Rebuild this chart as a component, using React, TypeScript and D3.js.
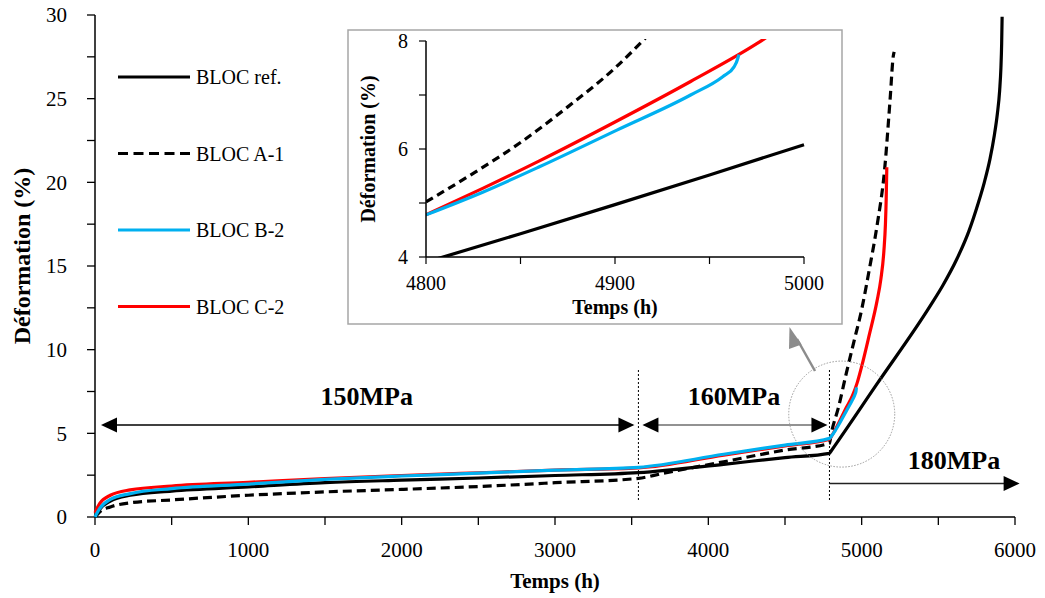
import React from 'react';
import * as d3 from 'd3';

type Pt = [number, number];

// ---------- DATA ----------
const seriesNames = ['BLOC ref.', 'BLOC A-1', 'BLOC B-2', 'BLOC C-2'];
const seriesColors = ['#000000', '#000000', '#00b0f0', '#ff0000'];

// main chart (Temps h, Déformation %)
const blocRef: Pt[] = [
  [0, 0], [30, 0.45], [100, 0.95], [230, 1.3], [500, 1.55], [1000, 1.8], [1500, 2.05],
  [2000, 2.2], [2500, 2.33], [3000, 2.48], [3544, 2.65], [4100, 3.15], [4500, 3.55],
  [4790, 3.8], [4800, 3.93], [5100, 7.95], [5446, 12.6], [5530, 13.85], [5620, 15.4],
  [5700, 17.1], [5760, 18.75], [5800, 20.0], [5837, 21.4], [5865, 22.8], [5885, 24.1],
  [5900, 25.5], [5908, 26.8], [5913, 28.3], [5916, 29.9],
];
const blocA1: Pt[] = [
  [0, 0], [30, 0.3], [100, 0.6], [230, 0.85], [500, 1.02], [1000, 1.3], [1500, 1.5],
  [2000, 1.65], [2500, 1.82], [3000, 2.05], [3544, 2.31], [3700, 2.6], [4100, 3.3],
  [4500, 4.0], [4790, 4.4], [4800, 4.9], [4850, 6.6], [4900, 8.6], [4950, 10.5],
  [5000, 12.4], [5050, 14.8], [5100, 17.4], [5150, 20.8], [5185, 24.9], [5207, 27.6],
  [5212, 27.8],
];
const blocB2: Pt[] = [
  [0, 0], [30, 0.5], [100, 1.05], [230, 1.4], [500, 1.7], [1000, 1.97], [1500, 2.25],
  [2000, 2.45], [2500, 2.62], [3000, 2.8], [3544, 2.97], [4100, 3.75], [4500, 4.3],
  [4790, 4.7], [4800, 4.8], [4830, 5.2], [4860, 5.67], [4901, 6.35], [4940, 7.0],
  [4957, 7.34], [4963, 7.52], [4966, 7.75],
];
const blocC2: Pt[] = [
  [0, 0.25], [30, 0.8], [100, 1.3], [230, 1.62], [500, 1.85], [1000, 2.07], [1500, 2.3],
  [2000, 2.48], [2500, 2.64], [3000, 2.8], [3544, 2.93], [4100, 3.7], [4500, 4.25],
  [4790, 4.65], [4800, 4.78], [4860, 5.8], [4900, 6.54], [4940, 7.25], [4970, 8.0],
  [5000, 9.0], [5050, 10.9], [5100, 12.9], [5125, 14.2], [5145, 15.9], [5155, 17.5],
  [5160, 19.0], [5164, 20.9],
];

// inset (zoom 4800-5000 h)
const zoomRef: Pt[] = [[4790, 3.8], [4850, 4.43], [4900, 4.97], [4950, 5.52], [5000, 6.08]];
const zoomA1: Pt[] = [
  [4800, 5.02], [4825, 5.55], [4850, 6.12], [4875, 6.78], [4900, 7.5], [4914, 7.98], [4920, 8.2],
];
const zoomB2: Pt[] = [
  [4800, 4.78], [4830, 5.2], [4860, 5.67], [4901, 6.35], [4940, 7.0], [4957, 7.34],
  [4963, 7.52], [4965, 7.68], [4965.5, 7.75],
];
const zoomC2: Pt[] = [
  [4800, 4.78], [4830, 5.27], [4860, 5.78], [4900, 6.5], [4940, 7.25], [4975, 7.95], [4990, 8.3],
];

const xTicksMain = [0, 1000, 2000, 3000, 4000, 5000, 6000];
const xMinorMain = d3.range(0, 6001, 500);
const yTicksMain = [0, 5, 10, 15, 20, 25, 30];
const yMinorMain = d3.range(0, 30.01, 2.5);
const xTicksInset = [4800, 4900, 5000];
const xMinorInset = [4800, 4850, 4900, 4950, 5000];
const yTicksInset = [4, 6, 8];
const yMinorInset = [4, 5, 6, 7, 8];

const stageBounds = [0, 3544, 4790, 6030];
const stageLabels = ['150MPa', '160MPa', '180MPa'];

const FONT = "'Liberation Serif', 'Times New Roman', serif";

function tri(tipX: number, tipY: number, dir: number, len: number, half: number) {
  const bx = tipX - dir * len;
  return `M${tipX},${tipY}L${bx},${tipY - half}L${bx},${tipY + half}Z`;
}

export default function App() {
  const x = d3.scaleLinear().domain([0, 6000]).range([95, 1015]);
  const y = d3.scaleLinear().domain([0, 30]).range([517, 15]);
  const xi = d3.scaleLinear().domain([4800, 5000]).range([426, 804]);
  const yi = d3.scaleLinear().domain([4, 8]).range([257, 41]);

  const lineMain = d3.line<Pt>().x(d => x(d[0])).y(d => y(d[1])).curve(d3.curveMonotoneX);
  const lineIn = d3.line<Pt>().x(d => xi(d[0])).y(d => yi(d[1])).curve(d3.curveMonotoneX);

  const mainSeries = [blocRef, blocA1, blocB2, blocC2];
  const zoomSeries = [zoomRef, zoomA1, zoomB2, zoomC2];
  const drawOrder = [0, 1, 3, 2];
  const dashMain = [null, '9,5', null, null];
  const dashIn = [null, '8,5', null, null];

  const arrowY = y(5.5);
  const arrow3Y = y(2);

  const circleCx = x(4870);
  const circleCy = y(6.15);

  return (
    <svg width={1045} height={598} style={{ position: 'absolute', left: 0, top: 0, background: '#fff' }}
      fontFamily={FONT}>
      <rect x={0} y={0} width={1045} height={598} fill="#fff" />

      {/* main axes */}
      <line x1={x(0)} x2={x(6000)} y1={y(0)} y2={y(0)} stroke="#000" strokeWidth={1.5} />
      <line x1={x(0)} x2={x(0)} y1={y(0)} y2={y(30)} stroke="#000" strokeWidth={1.5} />
      {xMinorMain.map(t => (
        <line key={'xm' + t} x1={x(t)} x2={x(t)} y1={y(0)} y2={y(0) + 8} stroke="#000" strokeWidth={1.3} />
      ))}
      {yMinorMain.map(v => (
        <line key={'ym' + v} x1={x(0) - 8} x2={x(0)} y1={y(v)} y2={y(v)} stroke="#000" strokeWidth={1.3} />
      ))}
      {xTicksMain.map(t => (
        <text key={'xt' + t} x={x(t)} y={557} textAnchor="middle" fontSize={21} fill="#000">{t}</text>
      ))}
      {yTicksMain.map(v => (
        <text key={'yt' + v} x={67} y={y(v)} dy="0.35em" textAnchor="end" fontSize={21} fill="#000">{v}</text>
      ))}
      <text x={x(3000)} y={588} textAnchor="middle" fontSize={21} fontWeight="bold">Temps (h)</text>
      <text transform={`translate(30,256) rotate(-90)`} textAnchor="middle" fontSize={24} fontWeight="bold">
        Déformation (%)
      </text>

      {/* stage separators */}
      {[stageBounds[1], stageBounds[2]].map(t => (
        <line key={'sep' + t} x1={x(t)} x2={x(t)} y1={370} y2={501} stroke="#000" strokeWidth={1}
          strokeDasharray="2,2" />
      ))}

      {/* stage arrows */}
      <line x1={x(stageBounds[0]) + 8} x2={x(stageBounds[1]) - 6} y1={arrowY} y2={arrowY} stroke="#000" strokeWidth={1.5} />
      <path d={tri(x(stageBounds[0]) + 6, arrowY, -1, 16, 7.5)} fill="#000" />
      <path d={tri(x(stageBounds[1]) - 4, arrowY, 1, 16, 7.5)} fill="#000" />
      <line x1={x(stageBounds[1]) + 6} x2={x(stageBounds[2]) - 6} y1={arrowY} y2={arrowY} stroke="#6e6e6e" strokeWidth={1.5} />
      <path d={tri(x(stageBounds[1]) + 4, arrowY, -1, 16, 7.5)} fill="#000" />
      <path d={tri(x(stageBounds[2]) - 2, arrowY, 1, 16, 7.5)} fill="#000" />
      <line x1={x(stageBounds[2])} x2={x(stageBounds[3]) - 6} y1={arrow3Y} y2={arrow3Y} stroke="#222" strokeWidth={1.5} />
      <path d={tri(x(stageBounds[3]), arrow3Y, 1, 16, 7.5)} fill="#000" />

      <text x={(x(stageBounds[0]) + x(stageBounds[1])) / 2} y={405} textAnchor="middle" fontSize={26} fontWeight="bold">{stageLabels[0]}</text>
      <text x={(x(stageBounds[1]) + x(stageBounds[2])) / 2} y={405} textAnchor="middle" fontSize={26} fontWeight="bold">{stageLabels[1]}</text>
      <text x={954} y={469} textAnchor="middle" fontSize={26} fontWeight="bold">{stageLabels[2]}</text>

      {/* main curves */}
      {drawOrder.map(i => (
        <path key={'s' + i} d={lineMain(mainSeries[i]) || ''} fill="none" stroke={seriesColors[i]}
          strokeWidth={3.2} strokeDasharray={dashMain[i] || undefined} strokeLinejoin="round" />
      ))}

      {/* zoom circle & pointer */}
      <circle cx={circleCx} cy={circleCy} r={53} fill="none" stroke="#9a9a9a" strokeWidth={1} strokeDasharray="1.5,1.5" />
      <line x1={815} y1={371} x2={797} y2={339} stroke="#8c8c8c" strokeWidth={2.5} />
      <path d="M789.5,327L801.6,344.5L789,349Z" fill="#8c8c8c" />

      {/* legend */}
      {seriesNames.map((n, i) => {
        const ly = 77 + i * 76.5;
        return (
          <g key={'lg' + i}>
            <line x1={118} x2={190} y1={ly} y2={ly} stroke={seriesColors[i]} strokeWidth={3.2}
              strokeDasharray={i === 1 ? '10,5.5' : undefined} />
            <text x={196} y={ly + 7} fontSize={20} fill="#000">{n}</text>
          </g>
        );
      })}

      {/* inset */}
      <rect x={348} y={30} width={494} height={294} fill="#fff" stroke="#a6a6a6" strokeWidth={1.5} />
      <defs>
        <clipPath id="insetClip">
          <rect x={xi(4800)} y={yi(8) - 2} width={xi(5000) - xi(4800) + 4} height={yi(4) - yi(8) + 2} />
        </clipPath>
      </defs>
      <g clipPath="url(#insetClip)">
        {drawOrder.map(i => (
          <path key={'z' + i} d={lineIn(zoomSeries[i]) || ''} fill="none" stroke={seriesColors[i]}
            strokeWidth={3.2} strokeDasharray={dashIn[i] || undefined} />
        ))}
      </g>
      <line x1={xi(4800)} x2={xi(5000)} y1={yi(4)} y2={yi(4)} stroke="#000" strokeWidth={1.5} />
      <line x1={xi(4800)} x2={xi(4800)} y1={yi(4)} y2={yi(8)} stroke="#000" strokeWidth={1.5} />
      {xMinorInset.map(t => (
        <line key={'xim' + t} x1={xi(t)} x2={xi(t)} y1={yi(4)} y2={yi(4) + 7} stroke="#000" strokeWidth={1.2} />
      ))}
      {yMinorInset.map(v => (
        <line key={'yim' + v} x1={xi(4800) - 7} x2={xi(4800)} y1={yi(v)} y2={yi(v)} stroke="#000" strokeWidth={1.2} />
      ))}
      {xTicksInset.map(t => (
        <text key={'xit' + t} x={xi(t)} y={290} textAnchor="middle" fontSize={20}>{t}</text>
      ))}
      {yTicksInset.map(v => (
        <text key={'yit' + v} x={408} y={yi(v)} dy="0.35em" textAnchor="end" fontSize={20}>{v}</text>
      ))}
      <text x={xi(4900)} y={314} textAnchor="middle" fontSize={20} fontWeight="bold">Temps (h)</text>
      <text transform={`translate(375,${yi(6)}) rotate(-90)`} textAnchor="middle" fontSize={20} fontWeight="bold">
        Déformation (%)
      </text>
    </svg>
  );
}
